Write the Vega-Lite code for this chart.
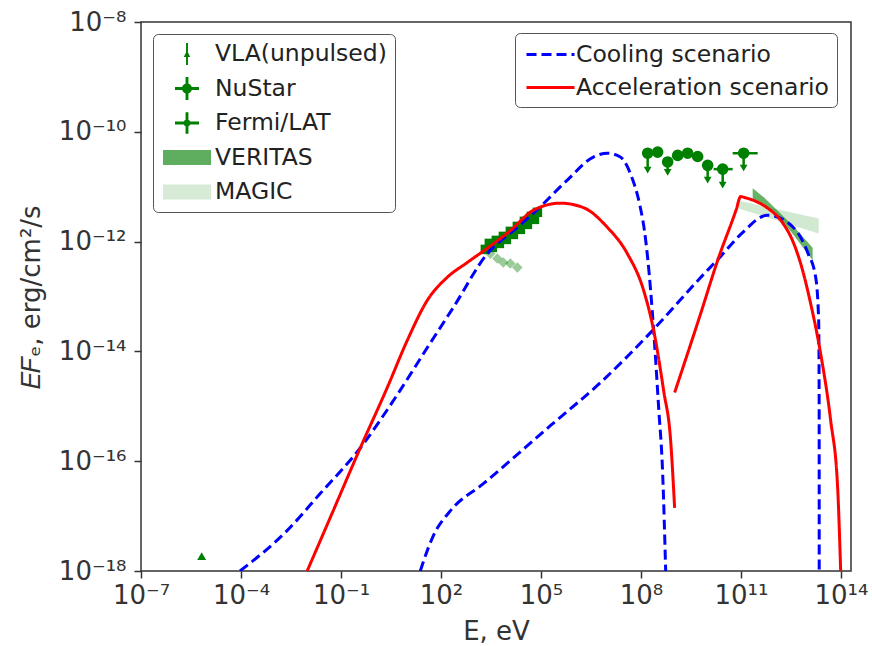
{
  "$schema": "https://vega.github.io/schema/vega-lite/v6.json",
  "width": 710,
  "height": 549,
  "autosize": {"type": "none"},
  "padding": {"left": 141, "top": 22, "right": 21, "bottom": 75},
  "background": "white",
  "config": {
    "font": "DejaVu Sans",
    "view": {"stroke": "#333333", "strokeWidth": 1.5},
    "axis": {
      "grid": false, "domain": false, "tickSize": 7, "tickWidth": 1.5, "tickColor": "#333333",
      "labelFont": "DejaVu Sans", "labelFontSize": 26, "labelColor": "#333333",
      "titleFont": "DejaVu Sans", "titleFontSize": 26, "titleFontWeight": "normal", "titleColor": "#333333"
    },
    "legend": {
      "labelFont": "DejaVu Sans", "labelFontSize": 23.5, "labelColor": "#222222", "labelLimit": 500,
      "strokeColor": "#555555", "fillColor": "white", "cornerRadius": 5, "padding": 8, "rowPadding": 9
    }
  },
  "datasets": {
    "lines": [
      {"model": "Cooling scenario", "part": "c1", "E": 9.33e-5, "F": 1e-18},
      {"model": "Cooling scenario", "part": "c1", "E": 2.37e-3, "F": 5.37e-18},
      {"model": "Cooling scenario", "part": "c1", "E": 2.37e-2, "F": 2.57e-17},
      {"model": "Cooling scenario", "part": "c1", "E": 0.378, "F": 1.74e-16},
      {"model": "Cooling scenario", "part": "c1", "E": 3.70, "F": 1.26e-15},
      {"model": "Cooling scenario", "part": "c1", "E": 38.8, "F": 1.17e-14},
      {"model": "Cooling scenario", "part": "c1", "E": 234, "F": 6.31e-14},
      {"model": "Cooling scenario", "part": "c1", "E": 2455, "F": 6.03e-13},
      {"model": "Cooling scenario", "part": "c1", "E": 1.95e4, "F": 1.82e-12},
      {"model": "Cooling scenario", "part": "c1", "E": 5.89e4, "F": 3.27e-12},
      {"model": "Cooling scenario", "part": "c1", "E": 6.17e5, "F": 1.32e-11},
      {"model": "Cooling scenario", "part": "c1", "E": 3.72e6, "F": 3.47e-11},
      {"model": "Cooling scenario", "part": "c1", "E": 9.77e6, "F": 4.07e-11},
      {"model": "Cooling scenario", "part": "c1", "E": 2.40e7, "F": 3.47e-11},
      {"model": "Cooling scenario", "part": "c1", "E": 4.79e7, "F": 1.74e-11},
      {"model": "Cooling scenario", "part": "c1", "E": 9.55e7, "F": 4.17e-12},
      {"model": "Cooling scenario", "part": "c1", "E": 1.27e8, "F": 1.585e-12},
      {"model": "Cooling scenario", "part": "c1", "E": 1.58e8, "F": 5.13e-13},
      {"model": "Cooling scenario", "part": "c1", "E": 2.40e8, "F": 2.40e-14},
      {"model": "Cooling scenario", "part": "c1", "E": 3.39e8, "F": 9.33e-16},
      {"model": "Cooling scenario", "part": "c1", "E": 4.47e8, "F": 5.89e-17},
      {"model": "Cooling scenario", "part": "c1", "E": 5.50e8, "F": 1e-18},
      {"model": "Cooling scenario", "part": "c2", "E": 23.9, "F": 1e-18},
      {"model": "Cooling scenario", "part": "c2", "E": 31.5, "F": 1.66e-18},
      {"model": "Cooling scenario", "part": "c2", "E": 58.7, "F": 4.37e-18},
      {"model": "Cooling scenario", "part": "c2", "E": 190, "F": 1.245e-17},
      {"model": "Cooling scenario", "part": "c2", "E": 1862, "F": 3.89e-17},
      {"model": "Cooling scenario", "part": "c2", "E": 1.905e5, "F": 4.43e-16},
      {"model": "Cooling scenario", "part": "c2", "E": 6.03e6, "F": 2.69e-15},
      {"model": "Cooling scenario", "part": "c2", "E": 1.93e8, "F": 2.20e-14},
      {"model": "Cooling scenario", "part": "c2", "E": 6.17e9, "F": 2.22e-13},
      {"model": "Cooling scenario", "part": "c2", "E": 2.45e10, "F": 5.37e-13},
      {"model": "Cooling scenario", "part": "c2", "E": 9.77e10, "F": 1.35e-12},
      {"model": "Cooling scenario", "part": "c2", "E": 6.31e11, "F": 3.02e-12},
      {"model": "Cooling scenario", "part": "c2", "E": 2.51e12, "F": 2.24e-12},
      {"model": "Cooling scenario", "part": "c2", "E": 1e13, "F": 6.31e-13},
      {"model": "Cooling scenario", "part": "c2", "E": 1.74e13, "F": 2.24e-13},
      {"model": "Cooling scenario", "part": "c2", "E": 2.14e13, "F": 3.63e-14},
      {"model": "Cooling scenario", "part": "c2", "E": 2.21e13, "F": 1.26e-15},
      {"model": "Cooling scenario", "part": "c2", "E": 2.22e13, "F": 1e-18},
      {"model": "Acceleration scenario", "part": "a1", "E": 9.66e-3, "F": 1e-18},
      {"model": "Acceleration scenario", "part": "a1", "E": 4.74e-2, "F": 9.33e-18},
      {"model": "Acceleration scenario", "part": "a1", "E": 0.378, "F": 1.74e-16},
      {"model": "Acceleration scenario", "part": "a1", "E": 2.44, "F": 2.19e-15},
      {"model": "Acceleration scenario", "part": "a1", "E": 9.73, "F": 1.585e-14},
      {"model": "Acceleration scenario", "part": "a1", "E": 38.8, "F": 8.51e-14},
      {"model": "Acceleration scenario", "part": "a1", "E": 154.5, "F": 2.24e-13},
      {"model": "Acceleration scenario", "part": "a1", "E": 616.6, "F": 4.17e-13},
      {"model": "Acceleration scenario", "part": "a1", "E": 2455, "F": 7.59e-13},
      {"model": "Acceleration scenario", "part": "a1", "E": 1.20e4, "F": 1.585e-12},
      {"model": "Acceleration scenario", "part": "a1", "E": 5.89e4, "F": 3.72e-12},
      {"model": "Acceleration scenario", "part": "a1", "E": 3.80e5, "F": 5.01e-12},
      {"model": "Acceleration scenario", "part": "a1", "E": 1.86e6, "F": 4.17e-12},
      {"model": "Acceleration scenario", "part": "a1", "E": 9.77e6, "F": 1.82e-12},
      {"model": "Acceleration scenario", "part": "a1", "E": 3.89e7, "F": 6.03e-13},
      {"model": "Acceleration scenario", "part": "a1", "E": 1.20e8, "F": 1.29e-13},
      {"model": "Acceleration scenario", "part": "a1", "E": 2.40e8, "F": 2.40e-14},
      {"model": "Acceleration scenario", "part": "a1", "E": 4.79e8, "F": 1.91e-15},
      {"model": "Acceleration scenario", "part": "a1", "E": 7.76e8, "F": 2.34e-16},
      {"model": "Acceleration scenario", "part": "a1", "E": 1.02e9, "F": 1.41e-17},
      {"model": "Acceleration scenario", "part": "a2", "E": 1.02e9, "F": 1.78e-15},
      {"model": "Acceleration scenario", "part": "a2", "E": 6.17e9, "F": 4.90e-14},
      {"model": "Acceleration scenario", "part": "a2", "E": 2.00e10, "F": 4.57e-13},
      {"model": "Acceleration scenario", "part": "a2", "E": 7.08e10, "F": 3.72e-12},
      {"model": "Acceleration scenario", "part": "a2", "E": 9.77e10, "F": 6.61e-12},
      {"model": "Acceleration scenario", "part": "a2", "E": 1.38e11, "F": 6.27e-12},
      {"model": "Acceleration scenario", "part": "a2", "E": 2.40e11, "F": 5.62e-12},
      {"model": "Acceleration scenario", "part": "a2", "E": 6.31e11, "F": 4.07e-12},
      {"model": "Acceleration scenario", "part": "a2", "E": 1.55e12, "F": 2.45e-12},
      {"model": "Acceleration scenario", "part": "a2", "E": 3.80e12, "F": 9.33e-13},
      {"model": "Acceleration scenario", "part": "a2", "E": 6.17e12, "F": 3.98e-13},
      {"model": "Acceleration scenario", "part": "a2", "E": 1.23e13, "F": 7.41e-14},
      {"model": "Acceleration scenario", "part": "a2", "E": 2.45e13, "F": 9.12e-15},
      {"model": "Acceleration scenario", "part": "a2", "E": 4.90e13, "F": 5.50e-16},
      {"model": "Acceleration scenario", "part": "a2", "E": 7.94e13, "F": 3.24e-17},
      {"model": "Acceleration scenario", "part": "a2", "E": 9.77e13, "F": 1e-18}
    ],
    "nustar": [
      {"E": 2138, "F": 7.21e-13}, {"E": 2818, "F": 9.27e-13}, {"E": 3475, "F": 7.83e-13},
      {"E": 4581, "F": 1.052e-12}, {"E": 5636, "F": 9.27e-13}, {"E": 7430, "F": 1.245e-12},
      {"E": 9141, "F": 1.096e-12}, {"E": 12050, "F": 1.535e-12}, {"E": 14830, "F": 1.352e-12},
      {"E": 19540, "F": 1.892e-12}, {"E": 24040, "F": 1.671e-12}, {"E": 31770, "F": 2.339e-12},
      {"E": 39080, "F": 2.061e-12}, {"E": 51520, "F": 2.884e-12}, {"E": 63390, "F": 2.541e-12},
      {"E": 77980, "F": 3.412e-12}
    ],
    "nustar_faint": [
      {"E": 3020, "F": 6.03e-13}, {"E": 4898, "F": 4.90e-13}, {"E": 7413, "F": 4.17e-13},
      {"E": 12000, "F": 3.98e-13}, {"E": 19500, "F": 3.39e-13}
    ],
    "vla": [{"E": 6.61e-6, "F": 1.86e-18}],
    "fermi": [
      {"E": 1.585e8, "F": 4.07e-11, "Elo": 1.12e8, "Ehi": 2.24e8, "ul": 2.0e-11},
      {"E": 3.16e8, "F": 4.27e-11, "Elo": 2.24e8, "Ehi": 4.47e8, "ul": null},
      {"E": 6.31e8, "F": 2.82e-11, "Elo": 4.47e8, "Ehi": 8.91e8, "ul": 1.82e-11},
      {"E": 1.26e9, "F": 3.72e-11, "Elo": 8.91e8, "Ehi": 1.78e9, "ul": null},
      {"E": 2.51e9, "F": 4.07e-11, "Elo": 1.78e9, "Ehi": 3.55e9, "ul": null},
      {"E": 5.01e9, "F": 3.55e-11, "Elo": 3.55e9, "Ehi": 7.08e9, "ul": null},
      {"E": 1.0e10, "F": 2.45e-11, "Elo": 7.08e9, "Ehi": 1.41e10, "ul": 1.32e-11},
      {"E": 2.82e10, "F": 2.09e-11, "Elo": 1.51e10, "Ehi": 5.62e10, "ul": 1.07e-11},
      {"E": 1.20e11, "F": 4.07e-11, "Elo": 5.62e10, "Ehi": 3.16e11, "ul": 2.19e-11}
    ],
    "veritas": [
      {"E": 2.24e11, "lo": 5.62e-12, "hi": 9.33e-12},
      {"E": 5.01e11, "lo": 4.68e-12, "hi": 6.31e-12},
      {"E": 1.096e12, "lo": 3.39e-12, "hi": 3.98e-12},
      {"E": 3.98e12, "lo": 1.26e-12, "hi": 1.82e-12},
      {"E": 1.41e13, "lo": 4.57e-13, "hi": 7.76e-13}
    ],
    "magic": [
      {"E": 7.94e10, "lo": 4.07e-12, "hi": 5.62e-12},
      {"E": 2.14e13, "lo": 1.41e-12, "hi": 2.63e-12}
    ],
    "series": [
      {"series": "VLA(unpulsed)"}, {"series": "NuStar"}, {"series": "Fermi/LAT"},
      {"series": "VERITAS"}, {"series": "MAGIC"}
    ]
  },
  "layer": [
    {
      "data": {"name": "magic"},
      "mark": {"type": "area", "color": "green", "opacity": 0.18},
      "encoding": {
        "x": {
          "field": "E", "type": "quantitative", "title": "E, eV",
          "scale": {"type": "log", "domain": [1e-7, 1.995e14], "nice": false},
          "axis": {
            "values": [1e-7, 1e-4, 0.1, 100, 1e5, 1e8, 1e11, 1e14],
            "labelExpr": "'10' + replace(replace(replace(replace(replace(replace(replace(replace(replace(replace(replace('' + round(log(datum.value) / LN10), '-', '⁻'), regexp('0', 'g'), '⁰'), regexp('1', 'g'), '¹'), regexp('2', 'g'), '²'), regexp('3', 'g'), '³'), regexp('4', 'g'), '⁴'), regexp('5', 'g'), '⁵'), regexp('6', 'g'), '⁶'), regexp('7', 'g'), '⁷'), regexp('8', 'g'), '⁸'), regexp('9', 'g'), '⁹')",
            "labelFlush": false, "labelOverlap": false, "labelPadding": 4, "titlePadding": 10
          }
        },
        "y": {
          "field": "hi", "type": "quantitative", "title": "𝐸𝐹ₑ, erg/cm²/s",
          "scale": {"type": "log", "domain": [1e-18, 1e-8], "nice": false},
          "axis": {
            "values": [1e-18, 1e-16, 1e-14, 1e-12, 1e-10, 1e-8],
            "labelExpr": "'10' + replace(replace(replace(replace(replace(replace(replace(replace(replace(replace(replace('' + round(log(datum.value) / LN10), '-', '⁻'), regexp('0', 'g'), '⁰'), regexp('1', 'g'), '¹'), regexp('2', 'g'), '²'), regexp('3', 'g'), '³'), regexp('4', 'g'), '⁴'), regexp('5', 'g'), '⁵'), regexp('6', 'g'), '⁶'), regexp('7', 'g'), '⁷'), regexp('8', 'g'), '⁸'), regexp('9', 'g'), '⁹')",
            "labelFlush": false, "labelOverlap": false, "labelPadding": 8, "titlePadding": 14
          }
        },
        "y2": {"field": "lo"}
      }
    },
    {
      "data": {"name": "veritas"},
      "mark": {"type": "area", "color": "green", "opacity": 0.6},
      "encoding": {
        "x": {"field": "E", "type": "quantitative"},
        "y": {"field": "hi", "type": "quantitative"},
        "y2": {"field": "lo"}
      }
    },
    {
      "data": {"name": "nustar"},
      "mark": {"type": "point", "shape": "square", "filled": true, "color": "green", "size": 90, "opacity": 1},
      "encoding": {
        "x": {"field": "E", "type": "quantitative"},
        "y": {"field": "F", "type": "quantitative"}
      }
    },
    {
      "data": {"name": "nustar_faint"},
      "mark": {"type": "point", "shape": "diamond", "filled": true, "color": "green", "size": 110, "opacity": 0.4},
      "encoding": {
        "x": {"field": "E", "type": "quantitative"},
        "y": {"field": "F", "type": "quantitative"}
      }
    },
    {
      "data": {"name": "vla"},
      "mark": {"type": "point", "shape": "triangle-up", "filled": true, "color": "green", "size": 80, "opacity": 1},
      "encoding": {
        "x": {"field": "E", "type": "quantitative"},
        "y": {"field": "F", "type": "quantitative"}
      }
    },
    {
      "data": {"name": "fermi"},
      "mark": {"type": "rule", "color": "green", "strokeWidth": 2.5},
      "encoding": {
        "x": {"field": "Elo", "type": "quantitative"},
        "x2": {"field": "Ehi"},
        "y": {"field": "F", "type": "quantitative"}
      }
    },
    {
      "data": {"name": "fermi"},
      "transform": [{"filter": "isValid(datum.ul)"}],
      "mark": {"type": "rule", "color": "green", "strokeWidth": 2.5},
      "encoding": {
        "x": {"field": "E", "type": "quantitative"},
        "y": {"field": "F", "type": "quantitative"},
        "y2": {"field": "ul"}
      }
    },
    {
      "data": {"name": "fermi"},
      "transform": [{"filter": "isValid(datum.ul)"}],
      "mark": {"type": "point", "shape": "triangle-down", "filled": true, "color": "green", "size": 60, "opacity": 1},
      "encoding": {
        "x": {"field": "E", "type": "quantitative"},
        "y": {"field": "ul", "type": "quantitative"}
      }
    },
    {
      "data": {"name": "fermi"},
      "mark": {"type": "point", "shape": "circle", "filled": true, "color": "green", "size": 135, "opacity": 1},
      "encoding": {
        "x": {"field": "E", "type": "quantitative"},
        "y": {"field": "F", "type": "quantitative"}
      }
    },
    {
      "data": {"name": "lines"},
      "mark": {"type": "line", "strokeWidth": 3, "clip": true, "interpolate": "monotone"},
      "encoding": {
        "x": {"field": "E", "type": "quantitative"},
        "y": {"field": "F", "type": "quantitative"},
        "detail": {"field": "part", "type": "nominal"},
        "stroke": {
          "field": "model", "type": "nominal",
          "scale": {"domain": ["Cooling scenario", "Acceleration scenario"], "range": ["blue", "red"]},
          "legend": {
            "orient": "none", "legendX": 374, "legendY": 11, "title": null, "rowPadding": 8,
            "symbolType": "M-2,0H2", "symbolSize": 576, "symbolStrokeWidth": 3, "symbolOffset": 14, "labelOffset": 12
          }
        },
        "strokeDash": {
          "field": "model", "type": "nominal",
          "scale": {"domain": ["Cooling scenario", "Acceleration scenario"], "range": [[10, 5], [1, 0]]},
          "legend": {
            "orient": "none", "legendX": 374, "legendY": 11, "title": null, "rowPadding": 8,
            "symbolType": "M-2,0H2", "symbolSize": 576, "symbolStrokeWidth": 3, "symbolOffset": 14, "labelOffset": 12
          }
        }
      }
    },
    {
      "data": {"name": "series"},
      "mark": {"type": "point", "filled": true, "size": 0, "opacity": 1},
      "encoding": {
        "fill": {
          "field": "series", "type": "nominal",
          "scale": {
            "domain": ["VLA(unpulsed)", "NuStar", "Fermi/LAT", "VERITAS", "MAGIC"],
            "range": ["green", "green", "green", "#5fae5f", "#d6ead6"]
          },
          "legend": {
            "orient": "none", "legendX": 12, "legendY": 12, "title": null, "rowPadding": 10.5,
            "symbolSize": 576, "symbolStrokeWidth": 0, "symbolOpacity": 1, "symbolOffset": 14, "labelOffset": 16
          }
        },
        "shape": {
          "field": "series", "type": "nominal",
          "scale": {
            "domain": ["VLA(unpulsed)", "NuStar", "Fermi/LAT", "VERITAS", "MAGIC"],
            "range": [
              "M-0.08,-0.92H0.08V0.92H-0.08Z M0,-0.3L0.27,0.25H-0.27Z",
              "M-1,-0.12H1V0.12H-1Z M-0.12,-0.95H0.12V0.95H-0.12Z M-0.42,0A0.42,0.42 0 1 1 0.42,0A0.42,0.42 0 1 1 -0.42,0Z",
              "M-1,-0.12H1V0.12H-1Z M-0.12,-0.9H0.12V0.9H-0.12Z M-0.3,0A0.3,0.3 0 1 1 0.3,0A0.3,0.3 0 1 1 -0.3,0Z",
              "M-2,-0.62H2V0.62H-2Z",
              "M-2,-0.62H2V0.62H-2Z"
            ]
          },
          "legend": {
            "orient": "none", "legendX": 12, "legendY": 12, "title": null, "rowPadding": 10.5,
            "symbolSize": 576, "symbolStrokeWidth": 0, "symbolOpacity": 1, "symbolOffset": 14, "labelOffset": 16
          }
        }
      }
    }
  ]
}
